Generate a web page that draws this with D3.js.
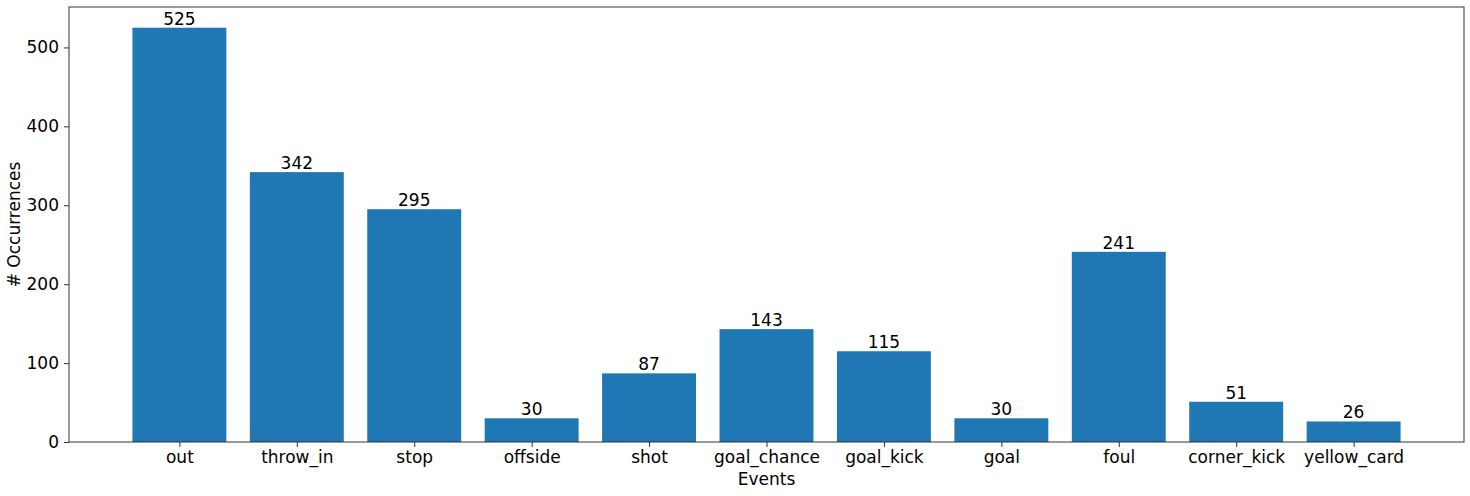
<!DOCTYPE html>
<html><head><meta charset="utf-8">
<script src="https://cdn.jsdelivr.net/npm/d3@7"></script>
<style>body{margin:0;background:#fff}svg{display:block}text{font-family:"DejaVu Sans",sans-serif}</style>
</head><body><svg id="c" width="1470" height="496"></svg>
<script>
const categories = ["out","throw_in","stop","offside","shot","goal_chance","goal_kick","goal","foul","corner_kick","yellow_card"];
const values = [525,342,295,30,87,143,115,30,241,51,26];
const yTicks = [0,100,200,300,400,500];

const svg = d3.select("#c");
const L = 69, R = 1464, T = 7, B = 442;
const n = categories.length;
const x = d3.scaleLinear().domain([-0.94, n - 1 + 0.94]).range([L, R]);
const y = d3.scaleLinear().domain([0, d3.max(values) * 1.05]).range([B, T]);
const bw = x(0.8) - x(0);

svg.selectAll("rect.bar").data(values).enter().append("rect")
  .attr("class","bar")
  .attr("x",(d,i)=>x(i-0.4)).attr("width",bw)
  .attr("y",d=>y(d)).attr("height",d=>B-y(d))
  .attr("fill","#1f77b4");

svg.selectAll("text.val").data(values).enter().append("text")
  .attr("x",(d,i)=>x(i)).attr("y",d=>y(d)-3)
  .attr("text-anchor","middle").attr("font-size",17).attr("fill","#000")
  .text(d=>d);

const yAxis = d3.axisLeft(y).tickValues(yTicks).tickSize(5).tickPadding(5).tickFormat(d3.format("d"));
const gy = svg.append("g").attr("transform",`translate(${L},0)`).call(yAxis);
const xAxis = d3.axisBottom(x).tickValues(d3.range(n)).tickSize(5).tickPadding(5).tickFormat(i=>categories[i]);
const gx = svg.append("g").attr("transform",`translate(0,${B})`).call(xAxis);
[gx,gy].forEach(g=>{
  g.select(".domain").remove();
  g.selectAll("line").attr("stroke","#333").attr("stroke-width",1);
  g.selectAll("text").attr("font-size",17).attr("fill","#000").style("font-family","DejaVu Sans");
});
gx.selectAll("text").attr("dy","0.71em").attr("y",9);

svg.append("rect").attr("x",L).attr("y",T).attr("width",R-L).attr("height",B-T)
  .attr("fill","none").attr("stroke","#333").attr("stroke-width",1);

svg.append("text").attr("x",(L+R)/2).attr("y",485).attr("text-anchor","middle")
  .attr("font-size",17).text("Events");
svg.append("text").attr("transform",`translate(20,${(T+B)/2}) rotate(-90)`).attr("text-anchor","middle")
  .attr("font-size",17).text("# Occurrences");
</script></body></html>
